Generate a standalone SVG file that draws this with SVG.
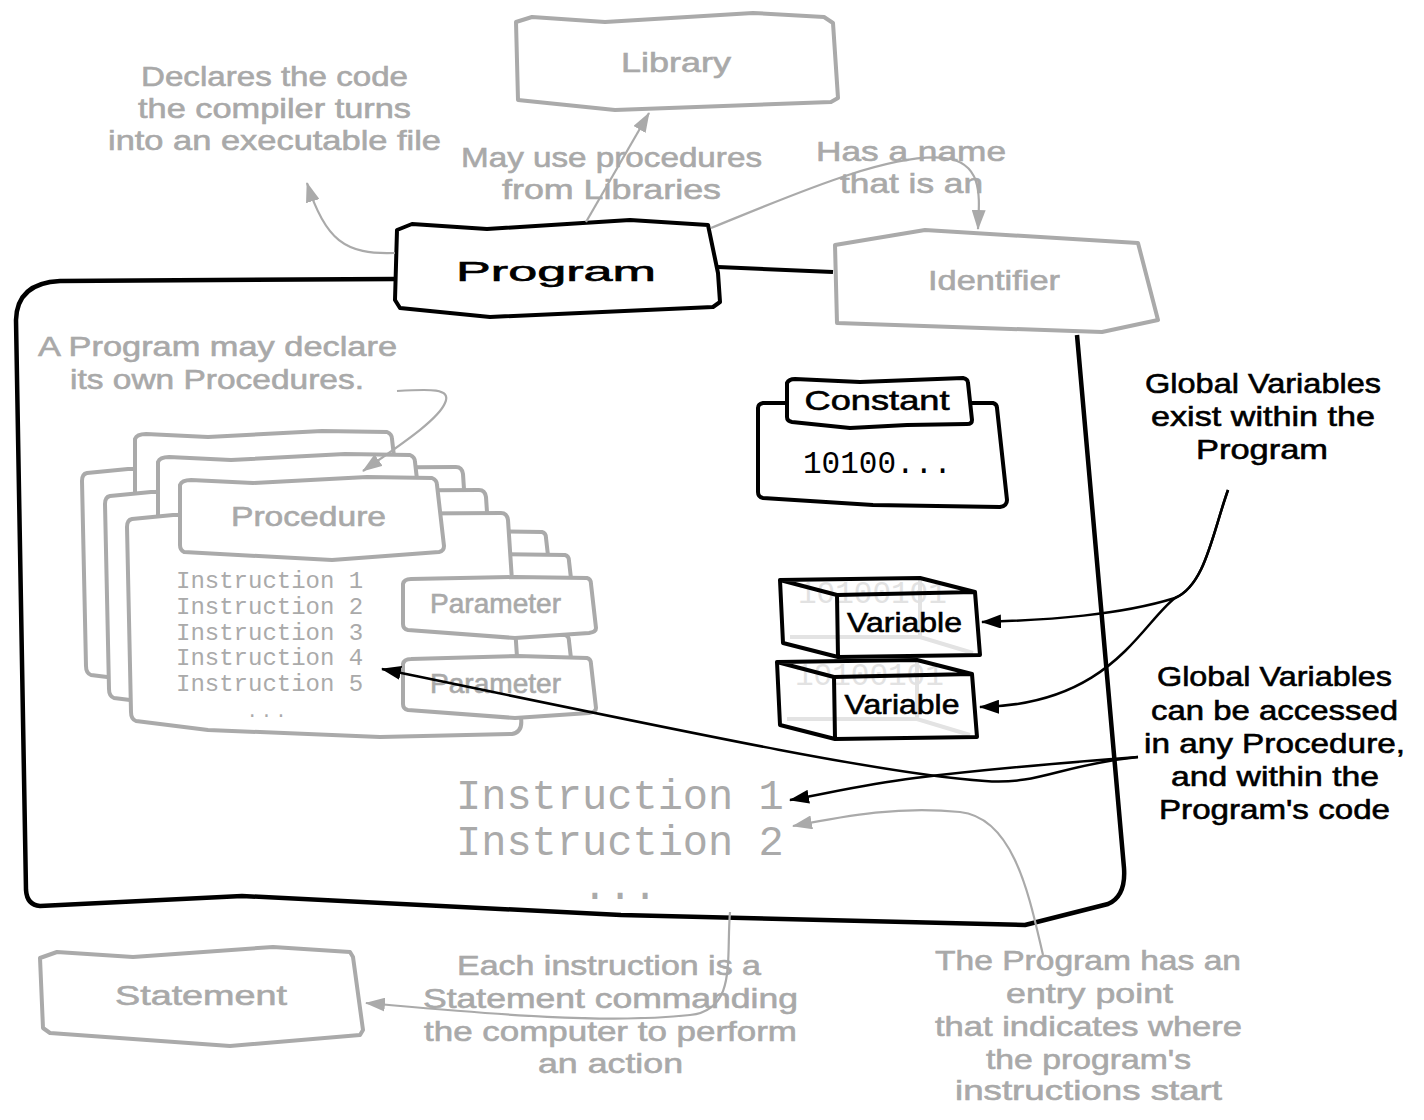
<svg xmlns="http://www.w3.org/2000/svg" xmlns:xlink="http://www.w3.org/1999/xlink" width="1424" height="1120" viewBox="0 0 1424 1120">
<style>
.hg{font-family:"Liberation Sans",Arial,sans-serif;font-size:28px;fill:#a9a9a9;stroke:#a9a9a9;stroke-width:0.6;text-anchor:middle}
.hb{font-family:"Liberation Sans",Arial,sans-serif;font-size:28px;fill:#000;stroke:#000;stroke-width:0.6;text-anchor:middle}
.mono{font-family:"Liberation Mono","Courier New",monospace;fill:#aaa}
.faint{font-family:"Liberation Mono","Courier New",monospace;fill:#e2e2e2}
.gbox{fill:#fff;stroke:#aaa;stroke-width:4;stroke-linejoin:round}
.bbox{fill:#fff;stroke:#000;stroke-width:4;stroke-linejoin:round}
.wf{fill:#fff;stroke:none}
.hid{fill:none;stroke:#e3e3e3;stroke-width:4}
.bl{fill:none;stroke:#000;stroke-width:4;stroke-linejoin:round}
.cg{fill:none;stroke:#aaa;stroke-width:2.2}
.cb{fill:none;stroke:#000;stroke-width:2.5}
</style>
<defs>
<marker id="ag" viewBox="0 0 20 14" refX="19" refY="7" markerWidth="20" markerHeight="14" markerUnits="userSpaceOnUse" orient="auto"><path d="M0,0 L20,7 L0,14 Z" fill="#aaa"/></marker>
<marker id="ab" viewBox="0 0 20 14" refX="19" refY="7" markerWidth="20" markerHeight="14" markerUnits="userSpaceOnUse" orient="auto"><path d="M0,0 L20,7 L0,14 Z" fill="#000"/></marker>
<g id="card">
<path class="gbox" d="M132,519 L173,515 L501,513 Q507,513 508,520 L521,718 Q523,732 512,734 L380,737 L208,730 L136,721 Q131,719 131,712 L127,527 Q127,520 132,519 Z"/>
<path class="gbox" d="M403,584 Q404,579 411,579 L515,577 L587,578 Q591,579 591,584 L596,628 Q596,632 589,633 L515,638 L408,630 Q403,629 403,624 Z"/>
<path class="gbox" d="M403,664 Q404,659 411,659 L518,656 L587,658 Q591,659 591,664 L596,708 Q596,712 589,713 L515,718 L408,710 Q403,709 403,704 Z"/>
<path class="gbox" d="M180,485 Q182,480 191,480 L253,483 L367,477 L432,478 Q437,480 437,485 L444,546 Q444,551 439,552 L332,560 L184,552 Q180,550 180,545 Z"/>
</g>
<g id="varbox">
<path class="wf" d="M780,580 L920,578 L975,592 L980,655 L838,657 L783,643 Z"/>
<path class="hid" d="M920,578 L920,637 M790,637 L920,637 L973,653"/>
<text class="faint" x="798" y="603" font-size="31">10100101</text>
<path class="bl" d="M780,580 L920,578 L975,592 L980,655 L838,657 L783,643 Z M780,580 L837,595 L975,592 M837,595 L838,657"/>
</g>
</defs>

<g id="program-body">
<path fill="none" stroke="#000" stroke-width="4.5" stroke-linejoin="round" d="M1077,335 L1124,868 Q1126,896 1108,904 L1025,925 L621,915 L242,896 L40,906 Q27,905 26,890 L16,320 Q17,283 60,281 L395,279"/>
</g>

<g id="procedures">
<use xlink:href="#card" href="#card" transform="translate(-45,-46)"/>
<use xlink:href="#card" href="#card" transform="translate(-22,-23)"/>
<use xlink:href="#card" href="#card"/>
<text class="hg" x="308.5" y="526" font-size="28" textLength="155" lengthAdjust="spacingAndGlyphs">Procedure</text>
<text class="hg" x="495.5" y="613" font-size="21" textLength="131" lengthAdjust="spacingAndGlyphs">Parameter</text>
<text class="hg" x="495.5" y="693" font-size="21" textLength="131" lengthAdjust="spacingAndGlyphs">Parameter</text>
<text class="mono" x="176" y="588" font-size="24">Instruction 1</text>
<text class="mono" x="176" y="614" font-size="24">Instruction 2</text>
<text class="mono" x="176" y="640" font-size="24">Instruction 3</text>
<text class="mono" x="176" y="665" font-size="24">Instruction 4</text>
<text class="mono" x="176" y="691" font-size="24">Instruction 5</text>
<text class="mono" x="268" y="717" font-size="19" text-anchor="middle" letter-spacing="3">...</text>
</g>

<g id="constant">
<path class="bbox" d="M758,408 Q758,404 763,403 L993,403 Q997,404 997,408 L1007,500 Q1007,506 1000,507 L873,505 L763,498 Q758,497 758,492 Z"/>
<path class="bbox" d="M787,383 Q789,379 795,379 L860,382 L963,378 Q968,379 968,383 L972,420 Q972,424 967,424 L907,425 L850,428 L792,422 Q787,421 787,417 Z"/>
<text class="hb" x="877" y="410" font-size="25" textLength="145" lengthAdjust="spacingAndGlyphs">Constant</text>
<text x="803" y="473" font-family="Liberation Mono, Courier New, monospace" font-size="31" fill="#000">10100...</text>
</g>

<g id="variable-1">
<use xlink:href="#varbox" href="#varbox"/>
<text class="hb" x="904.5" y="632" font-size="25" textLength="115" lengthAdjust="spacingAndGlyphs">Variable</text>
</g>
<g id="variable-2">
<use xlink:href="#varbox" href="#varbox" transform="translate(-3,82)"/>
<text class="hb" x="902" y="714" font-size="25" textLength="115" lengthAdjust="spacingAndGlyphs">Variable</text>
</g>

<g id="main-instructions">
<text class="mono" x="456" y="809" font-size="42">Instruction 1</text>
<text class="mono" x="456" y="855" font-size="42">Instruction 2</text>
<text class="mono" x="620" y="899" font-size="42" text-anchor="middle">...</text>
</g>

<g id="program">
<path class="bbox" d="M397,230 L412,224 L487,229 L630,220 L708,225 L718,273 L720,302 L713,307 L490,317 L400,308 L395,300 Z"/>
<text class="hb" x="556" y="281" font-size="40" stroke-width="1" textLength="200" lengthAdjust="spacingAndGlyphs">Program</text>
</g>

<g id="library">
<path class="gbox" d="M516,22 L532,17 L605,22 L753,13 L824,17 L833,23 L838,98 L831,102 L615,110 L518,100 Z"/>
<text class="hg" x="676" y="72" font-size="27" textLength="110" lengthAdjust="spacingAndGlyphs">Library</text>
</g>

<g id="identifier">
<path class="gbox" d="M835,245 L925,230 L1138,243 L1158,320 L1102,332 L837,323 Z"/>
<text class="hg" x="994" y="290" font-size="27" textLength="132" lengthAdjust="spacingAndGlyphs">Identifier</text>
</g>

<g id="statement">
<path class="gbox" d="M40,958 L57,952 L133,957 L273,947 L350,952 L353,957 L363,1030 L360,1035 L230,1046 L50,1033 L43,1028 Z"/>
<text class="hg" x="201" y="1005" font-size="29" textLength="172" lengthAdjust="spacingAndGlyphs">Statement</text>
</g>

<g id="connectors">
<path class="cg" marker-end="url(#ag)" d="M395,253 C345,255 325,240 307,183"/>
<path class="cg" marker-end="url(#ag)" d="M586,222 L649,113"/>
<path class="cg" marker-end="url(#ag)" d="M711,228 C790,196 890,152 945,158 C985,163 979,200 978,229"/>
<path fill="none" stroke="#000" stroke-width="4" d="M718,267 L833,272"/>
<path class="cg" marker-end="url(#ag)" d="M397,391 C430,389 452,388 445,403 C438,420 400,445 363,471"/>
<path class="cb" marker-end="url(#ab)" d="M1228,490 C1212,535 1205,585 1175,598 C1120,615 1050,620 982,622"/>
<path class="cb" marker-end="url(#ab)" d="M1228,490 C1212,535 1205,585 1175,598 C1140,625 1110,705 980,707"/>
<path class="cb" marker-end="url(#ab)" d="M1138,757 C1060,765 1040,785 985,781 C890,775 700,735 382,669"/>
<path class="cb" marker-end="url(#ab)" d="M1138,757 C1060,763 980,770 915,778 C860,785 830,793 790,800"/>
<path class="cg" marker-end="url(#ag)" d="M1043,955 C1030,900 1015,818 960,812 C900,806 850,815 793,826"/>
<path class="cg" marker-end="url(#ag)" d="M730,912 C726,960 737,1010 690,1015 C600,1025 470,1012 366,1003"/>
</g>

<g id="notes">
<text class="hg" x="274.5" y="86" textLength="267" lengthAdjust="spacingAndGlyphs">Declares the code</text>
<text class="hg" x="274.5" y="118" textLength="273" lengthAdjust="spacingAndGlyphs">the compiler turns</text>
<text class="hg" x="274.5" y="150" textLength="333" lengthAdjust="spacingAndGlyphs">into an executable file</text>
<text class="hg" x="611.5" y="167" textLength="301" lengthAdjust="spacingAndGlyphs">May use procedures</text>
<text class="hg" x="611.5" y="199" textLength="219" lengthAdjust="spacingAndGlyphs">from Libraries</text>
<text class="hg" x="911" y="161" textLength="190" lengthAdjust="spacingAndGlyphs">Has a name</text>
<text class="hg" x="911.5" y="193" textLength="143" lengthAdjust="spacingAndGlyphs">that is an</text>
<text class="hg" x="217.5" y="356" textLength="359" lengthAdjust="spacingAndGlyphs">A Program may declare</text>
<text class="hg" x="217" y="389" textLength="294" lengthAdjust="spacingAndGlyphs">its own Procedures.</text>
<text class="hb" x="1263" y="393" textLength="236" lengthAdjust="spacingAndGlyphs">Global Variables</text>
<text class="hb" x="1263" y="426" textLength="224" lengthAdjust="spacingAndGlyphs">exist within the</text>
<text class="hb" x="1262" y="459" textLength="132" lengthAdjust="spacingAndGlyphs">Program</text>
<text class="hb" x="1274.5" y="686" textLength="235" lengthAdjust="spacingAndGlyphs">Global Variables</text>
<text class="hb" x="1274.5" y="720" textLength="247" lengthAdjust="spacingAndGlyphs">can be accessed</text>
<text class="hb" x="1274.5" y="753" textLength="261" lengthAdjust="spacingAndGlyphs">in any Procedure,</text>
<text class="hb" x="1275" y="786" textLength="208" lengthAdjust="spacingAndGlyphs">and within the</text>
<text class="hb" x="1274.5" y="819" textLength="231" lengthAdjust="spacingAndGlyphs">Program's code</text>
<text class="hg" x="609" y="975" textLength="304" lengthAdjust="spacingAndGlyphs">Each instruction is a</text>
<text class="hg" x="610.5" y="1008" textLength="375" lengthAdjust="spacingAndGlyphs">Statement commanding</text>
<text class="hg" x="610.5" y="1041" textLength="373" lengthAdjust="spacingAndGlyphs">the computer to perform</text>
<text class="hg" x="610.5" y="1073" textLength="145" lengthAdjust="spacingAndGlyphs">an action</text>
<text class="hg" x="1088" y="970" textLength="306" lengthAdjust="spacingAndGlyphs">The Program has an</text>
<text class="hg" x="1089.5" y="1003" textLength="167" lengthAdjust="spacingAndGlyphs">entry point</text>
<text class="hg" x="1088.5" y="1036" textLength="307" lengthAdjust="spacingAndGlyphs">that indicates where</text>
<text class="hg" x="1088.5" y="1069" textLength="205" lengthAdjust="spacingAndGlyphs">the program's</text>
<text class="hg" x="1088.5" y="1100" textLength="267" lengthAdjust="spacingAndGlyphs">instructions start</text>
</g>
</svg>
